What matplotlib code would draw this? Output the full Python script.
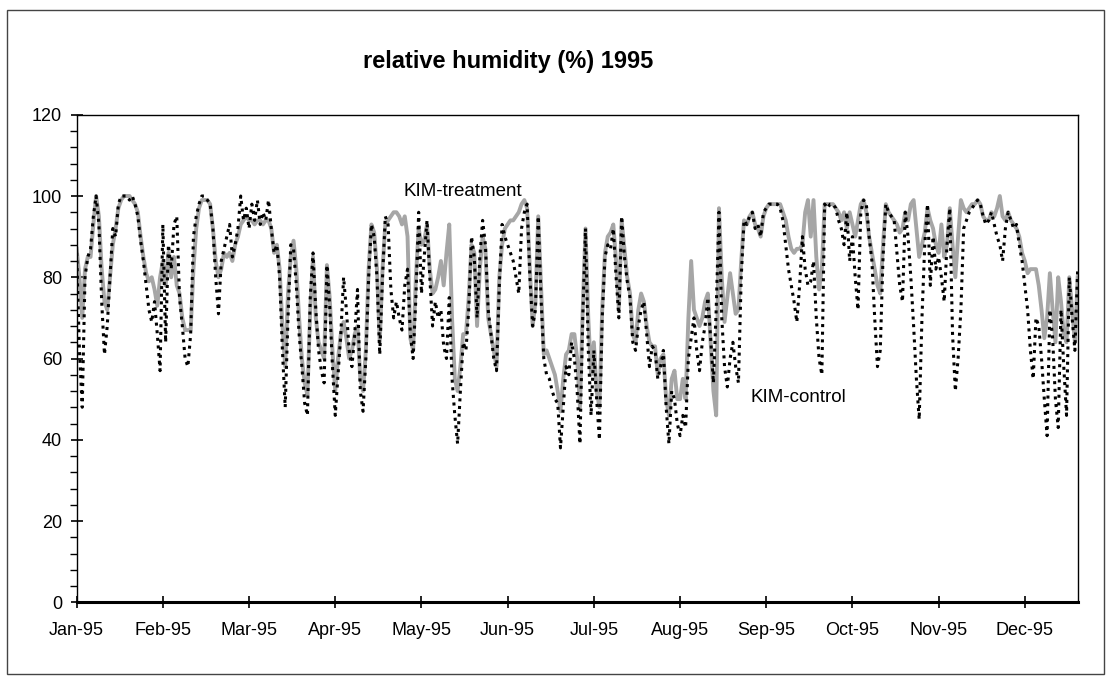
import numpy as np
import matplotlib
matplotlib.use("Agg")
import matplotlib.pyplot as plt
from matplotlib.ticker import MultipleLocator

plt.rcParams['font.family'] = ['Liberation Sans', 'DejaVu Sans']

month_labels = ["Jan-95", "Feb-95", "Mar-95", "Apr-95", "May-95", "Jun-95",
                "Jul-95", "Aug-95", "Sep-95", "Oct-95", "Nov-95", "Dec-95"]

# daily relative humidity (one value per day)
kim_control = [
    86, 62, 48, 80, 85, 87, 95, 100, 93, 74,
    61, 68, 80, 92, 90, 98, 100, 100, 100, 99,
    100, 98, 95, 89, 84, 78, 72, 69, 74, 66,
    57, 93, 64, 88, 82, 93, 95, 75, 68, 60,
    58, 66, 90, 95, 98, 100, 100, 99, 98, 92,
    80, 71, 84, 87, 90, 93, 85, 88, 92, 100,
    94, 97, 92, 98, 94, 99, 93, 96, 94, 99,
    92, 86, 88, 80, 62, 48, 70, 88, 87, 78,
    66, 58, 49, 46, 75, 86, 72, 62, 57, 54,
    83, 73, 58, 46, 56, 66, 80, 72, 62, 58,
    66, 77, 52, 47, 60, 80, 93, 90, 80, 61,
    80, 95, 93, 77, 70, 74, 70, 67, 78, 82,
    66, 60, 75, 96, 76, 85, 94, 80, 68, 74,
    70, 72, 63, 60, 75, 55, 46, 39, 52, 64,
    62, 72, 90, 85, 70, 85, 94, 88, 72, 66,
    60, 57, 78, 93, 90, 88, 86, 84, 80, 76,
    92, 96, 98, 80, 68, 72, 95, 75, 60, 56,
    55, 52, 50, 49, 38, 48, 58, 56, 64, 60,
    52, 39, 70, 92, 62, 46, 62, 50, 40, 70,
    85, 88, 87, 92, 80, 70, 95, 85, 79, 75,
    64, 62, 68, 72, 74, 66, 58, 63, 62, 55,
    58, 62, 48, 39, 52, 50, 44, 41, 46, 43,
    60, 65, 70, 62, 57, 64, 68, 75, 65, 54,
    72, 96, 70, 58, 53, 60, 64, 58, 54, 80,
    94, 93, 95, 96, 92, 93, 90, 96, 97, 98,
    98, 98, 98, 97, 94, 88, 82, 78, 74, 69,
    78, 90, 82, 78, 79, 84, 70, 60, 56, 98,
    97, 98, 98, 97, 94, 92, 88, 96, 84, 90,
    80, 72, 96, 99, 98, 90, 84, 70, 58, 62,
    85, 98, 96, 95, 94, 86, 78, 74, 96, 90,
    80, 68, 55, 45, 70, 88, 98, 78, 90, 82,
    85, 80, 74, 88, 97, 66, 52, 60, 72, 92,
    94, 96, 97, 98, 99, 98, 95, 93, 94, 96,
    93, 90, 88, 84, 92, 96, 94, 92, 93, 88,
    84, 78, 72, 62, 55, 70, 68, 60, 50, 41,
    72, 65, 50, 43, 72, 58, 46, 80, 70, 62, 82,
]

kim_treatment = [
    87, 80, 70, 82, 85, 85, 93, 100, 95, 82,
    74, 72, 80, 88, 92, 97, 99, 100, 100, 100,
    99, 98, 96, 90, 85, 81, 79, 80, 77, 73,
    80, 84, 78, 86, 80, 85, 78, 76, 70, 67,
    67, 67, 82, 92, 97, 99, 99, 99, 98, 92,
    84, 80, 82, 86, 85, 86, 84, 88, 90, 93,
    94, 95, 94, 94, 93, 94, 94, 93, 94, 94,
    92, 86, 88, 82, 68, 58, 76, 85, 89, 82,
    70, 60, 54, 51, 72, 85, 70, 64, 62, 60,
    83, 75, 62, 52, 60, 66, 69, 65, 60, 62,
    66, 68, 55, 52, 62, 82, 93, 91, 82, 64,
    82, 93, 94, 95, 96, 96, 95, 93, 95, 90,
    65, 62, 80, 92, 88, 89, 93, 82, 76, 77,
    80, 84, 78, 86, 93, 70, 55, 52, 58, 66,
    66, 75, 88, 86, 68, 82, 90, 87, 70, 66,
    62, 58, 80, 88, 92, 93, 94, 94, 95, 96,
    98, 99, 97, 82, 68, 74, 95, 78, 61, 62,
    60, 58, 56, 52, 47, 55, 61, 62, 66, 66,
    60, 48, 72, 92, 70, 56, 64, 52, 48, 72,
    86, 90, 91, 93, 84, 72, 94, 87, 80, 76,
    66, 64, 72, 76, 74, 68, 64, 63, 63, 56,
    60, 61, 50, 46, 55, 57, 50, 50, 55, 50,
    70, 84, 72, 70, 68, 70, 74, 76, 64, 52,
    46, 97, 80, 69, 75, 81, 76, 71, 72, 84,
    94, 93, 95, 96, 93, 92, 90, 95, 97, 98,
    98, 98, 98, 98, 96, 94, 90, 87, 86, 87,
    87, 88, 96, 99, 90, 99, 85, 77, 82, 98,
    98, 98, 98, 97, 96, 94, 96, 92, 96, 93,
    90, 94, 98, 99, 96, 90, 86, 82, 78, 76,
    88, 98, 96, 95, 94, 93, 91, 92, 96, 94,
    98, 99, 92, 85, 88, 91, 97, 94, 92, 88,
    86, 93, 85, 88, 97, 88, 80, 90, 99, 97,
    96, 97, 98, 98, 99, 98, 95, 94, 94, 96,
    95, 97, 100, 95, 94, 96, 94, 93, 92, 90,
    86, 84, 81, 82, 82, 82, 78, 72, 65, 70,
    81, 72, 64, 80, 74, 66, 64, 80, 72, 64, 80,
]

days_c = np.arange(len(kim_control))
days_t = np.arange(len(kim_treatment))

fig = plt.figure(figsize=(11.11, 6.79), dpi=100)
ax = fig.add_axes([0.069, 0.113, 0.901, 0.718])

# outer frame of the chart sheet
fig.patches.append(plt.Rectangle((0.006, 0.008), 0.988, 0.978, transform=fig.transFigure,
                                 fill=False, edgecolor='#444444', linewidth=1.0))

ax.plot(days_t, kim_treatment, color='#a6a6a6', linewidth=2.8)
ax.plot(days_c, kim_control, color='black', linewidth=2.2, linestyle=(0, (1.0, 1.5)))

ax.text(117.5, 101, "KIM-treatment", fontsize=13.5, va='center', ha='left')
ax.text(242.5, 50.5, "KIM-control", fontsize=13.5, va='center', ha='left')

ax.set_xlim(0, len(kim_control) - 1)
ax.set_ylim(0, 120)
ax.set_xticks(np.arange(len(month_labels)) * 31)
ax.set_xticklabels(month_labels)
ax.yaxis.set_major_locator(MultipleLocator(20))
ax.yaxis.set_minor_locator(MultipleLocator(4))
ax.tick_params(axis='both', which='major', direction='inout', length=9, width=1.2,
               labelsize=13, pad=6)
ax.tick_params(axis='y', which='minor', direction='out', length=5, width=1.0)
ax.tick_params(axis='x', which='major', pad=10)

for side in ['top', 'right', 'left']:
    ax.spines[side].set_linewidth(1.0)
ax.spines['bottom'].set_linewidth(2.2)

fig.text(0.457, 0.909, "relative humidity (%) 1995", fontsize=17, fontweight='bold',
         ha='center', va='center')

fig.savefig("out.png", dpi=100)
